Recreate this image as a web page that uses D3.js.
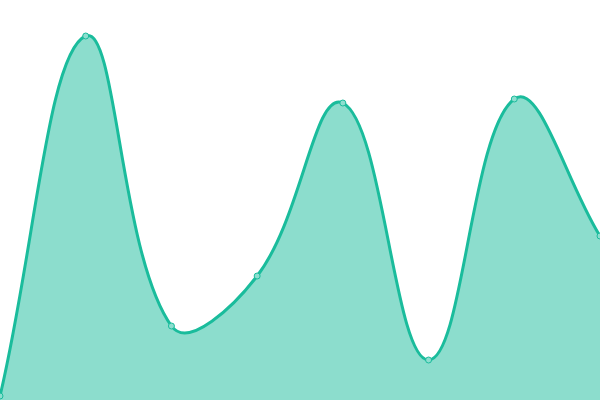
<!DOCTYPE html>
<html>
<head>
<meta charset="utf-8">
<script src="https://cdn.jsdelivr.net/npm/d3@7"></script>
<style>
  html, body { margin: 0; padding: 0; background: #fff; }
  svg { display: block; }
</style>
</head>
<body>
<svg id="chart" width="600" height="400"></svg>
<script>
// data
const labels = ["A", "B", "C", "D", "E", "F", "G", "H"];
const values = [1, 91, 18.5, 31, 74.25, 10, 75.25, 41];

const W = 600, H = 400;
const svg = d3.select("#chart");

const x = d3.scalePoint().domain(labels).range([0, W]);
const y = d3.scaleLinear().domain([0, 100]).range([H, 0]);

const pts = labels.map((l, i) => ({ l: l, v: values[i] }));

// spline with distance-weighted control points (tension 0.4)
function SplineCurve(context, t) { this._context = context; this._t = t; }
SplineCurve.prototype = {
  areaStart() { this._line = 0; },
  areaEnd() { this._line = NaN; },
  lineStart() { this._pts = []; },
  point(px, py) { this._pts.push([+px, +py]); },
  lineEnd() {
    const p = this._pts, n = p.length, c = this._context, t = this._t;
    if (n) {
      const cps = p.map((cur, i) => {
        const prev = p[i - 1] || cur, next = p[i + 1] || cur;
        const d01 = Math.hypot(cur[0] - prev[0], cur[1] - prev[1]);
        const d12 = Math.hypot(next[0] - cur[0], next[1] - cur[1]);
        let s01 = d01 / (d01 + d12), s12 = d12 / (d01 + d12);
        if (isNaN(s01)) s01 = 0;
        if (isNaN(s12)) s12 = 0;
        const fa = t * s01, fb = t * s12;
        const dx = next[0] - prev[0], dy = next[1] - prev[1];
        return { pin: [cur[0] - fa * dx, cur[1] - fa * dy], pout: [cur[0] + fb * dx, cur[1] + fb * dy] };
      });
      if (this._line) c.lineTo(p[0][0], p[0][1]); else c.moveTo(p[0][0], p[0][1]);
      for (let i = 1; i < n; i++) {
        const a = cps[i - 1].pout, b = cps[i].pin;
        c.bezierCurveTo(a[0], a[1], b[0], b[1], p[i][0], p[i][1]);
      }
    }
    if (this._line || (this._line !== 0 && n === 1)) c.closePath();
    this._line = 1 - this._line;
  }
};
const curve = ctx => new SplineCurve(ctx, 0.4);

const area = d3.area()
  .x(d => x(d.l))
  .y0(H)
  .y1(d => y(d.v))
  .curve(curve);

const line = d3.line()
  .x(d => x(d.l))
  .y(d => y(d.v))
  .curve(curve);

svg.append("path")
  .datum(pts)
  .attr("d", area)
  .attr("fill", "#1abc9c")
  .attr("fill-opacity", 0.5);

svg.append("path")
  .datum(pts)
  .attr("d", line)
  .attr("fill", "none")
  .attr("stroke", "#1abc9c")
  .attr("stroke-width", 3);

svg.selectAll("circle.pt")
  .data(pts)
  .enter().append("circle")
  .attr("class", "pt")
  .attr("cx", d => x(d.l))
  .attr("cy", d => y(d.v))
  .attr("r", 3)
  .attr("fill", "#8ddecf")
  .attr("stroke", "#1abc9c")
  .attr("stroke-width", 1);
</script>
</body>
</html>
